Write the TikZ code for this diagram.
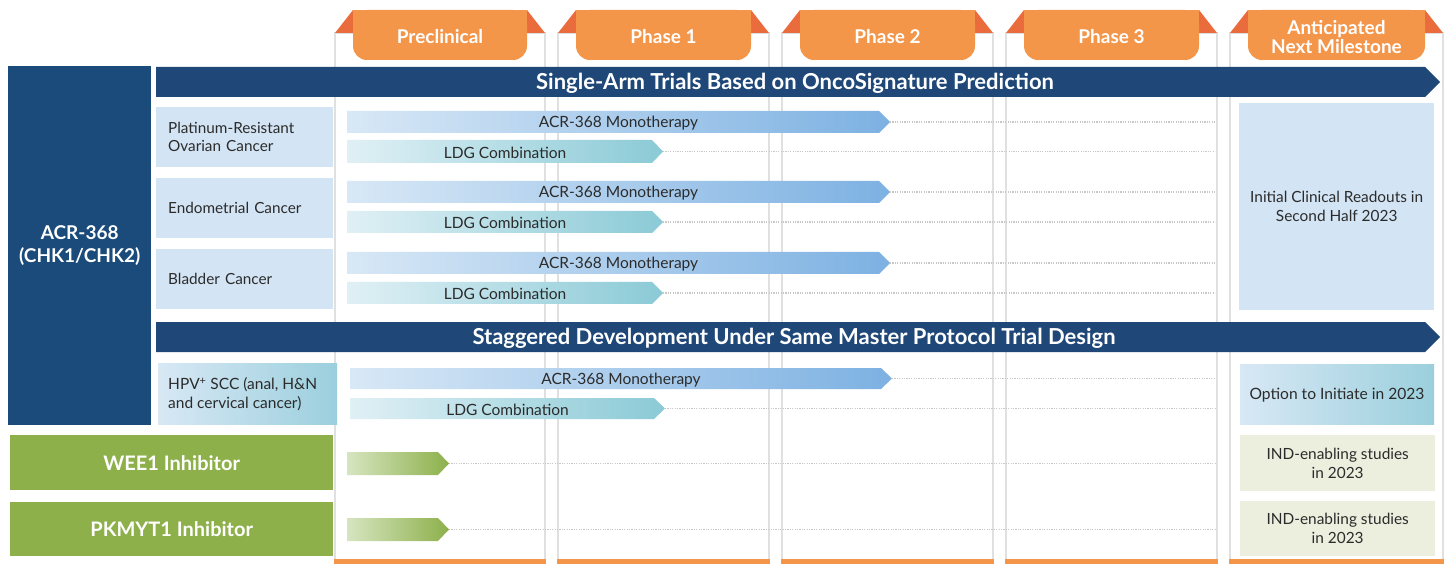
\documentclass[tikz,border=0pt]{standalone}
\usepackage{fontspec}
\setmainfont{Lato}
\usetikzlibrary{calc}
\definecolor{navy}{HTML}{1F4878}
\definecolor{acrblue}{HTML}{1B4B7A}
\definecolor{tabor}{HTML}{F4964A}
\definecolor{tabred}{HTML}{EA6B3C}
\definecolor{indblue}{HTML}{D3E4F4}
\definecolor{grn}{HTML}{8DB04B}
\definecolor{grnlt}{HTML}{D6E5C0}
\definecolor{milegrn}{HTML}{ECEFDE}
\definecolor{monoL}{HTML}{D8E8F6}
\definecolor{monoR}{HTML}{7DB1E2}
\definecolor{ldgL}{HTML}{E0F0F5}
\definecolor{ldgR}{HTML}{8ACAD6}
\definecolor{hpvL}{HTML}{D8E8F5}
\definecolor{hpvR}{HTML}{9BCFDD}
\definecolor{txt}{HTML}{2B2B2B}
\definecolor{colgray}{HTML}{E0E0E0}
\definecolor{dotgray}{HTML}{C8C8C8}
\tikzset{
  tabtext/.style={text=white,font=\bfseries\fontsize{19}{20}\selectfont,align=center,inner sep=0pt},
  bannertext/.style={text=white,font=\bfseries\fontsize{22}{24}\selectfont,inner sep=0pt},
  bartext/.style={text=txt,font=\fontsize{15.5}{17}\selectfont,inner sep=0pt},
  indbox/.style={fill=indblue,anchor=north west,inner ysep=0pt,inner xsep=12pt,text width=153pt,minimum height=60pt,align=left,text=txt,font=\fontsize{15.3}{18}\selectfont},
  greenbox/.style={fill=grn,anchor=north west,inner sep=0pt,minimum width=323pt,text=white,font=\bfseries\fontsize{20}{22}\selectfont},
  milebox/.style={anchor=north west,inner sep=0pt,minimum width=195pt,align=center,text=txt,font=\fontsize{15.4}{19}\selectfont},
  dotline/.style={draw=dotgray,line width=1.2pt,dash pattern=on 1.2pt off 1.2pt},
}
\newcommand{\phasecol}[4]{%
  \fill[white,draw=colgray,line width=2.8pt] (#1,33) rectangle (#2,561);
  \fill[tabor] (#1-1,559) rectangle (#2+1,564);
  \fill[tabred] (#1,33) -- (#1+18,10) -- (#1+18,33) -- cycle;
  \fill[tabred] (#2,33) -- (#2-18,10) -- (#2-18,33) -- cycle;
  \fill[tabor,rounded corners=14pt] (#1+18,10) rectangle (#2-18,60);
  \fill[tabor] (#1+18,10) rectangle (#2-18,30);
  \node[tabtext] (#3) at ({(#1+#2)/2},37) {#4};
}
\newcommand{\pbar}[8]{%
  \shade[left color=#6,right color=#7] (#2,#4) -- (#3-11,#4) -- (#3,{(#4+#5)/2}) -- (#3-11,#5) -- (#2,#5) -- cycle;
  \coordinate (#1tip) at (#3,{(#4+#5)/2});
  \coordinate (#1end) at (1215,{(#4+#5)/2});
  \node[bartext] (#1) at ({(#2+#3)/2},{(#4+#5)/2+1.3}) {#8};
  \draw[dotline] (#1tip) -- (#1end);
}
\begin{document}
\begin{tikzpicture}[x=1pt,y=-1pt]
\useasboundingbox (0,0) rectangle (1452,564);
\fill[white] (0,0) rectangle (1452,564);
% phase columns
\phasecol{335}{545}{pre}{Preclinical}
\phasecol{558}{769}{ph1}{Phase 1}
\phasecol{782}{993}{ph2}{Phase 2}
\phasecol{1006}{1217}{ph3}{Phase 3}
\phasecol{1230}{1443}{mile}{Anticipated\\[-1pt]Next Milestone}
% left program box
\node[fill=acrblue,anchor=north west,inner sep=0pt,minimum width=143pt,minimum height=359pt,
  text=white,align=center,font=\bfseries\fontsize{19}{23}\selectfont] (acr) at (8,66) {ACR-368\\(CHK1/CHK2)};
% banners
\fill[navy] (156,67) -- (1425,67) -- (1440,82) -- (1425,97) -- (156,97) -- cycle;
\node[bannertext] (ban1) at (795,83.5) {Single-Arm Trials Based on OncoSignature Prediction};
\fill[navy] (156,322) -- (1425,322) -- (1440,337) -- (1425,352) -- (156,352) -- cycle;
\node[bannertext] (ban2) at (794,338.5) {Staggered Development Under Same Master Protocol Trial Design};
% indications
\node[indbox] (plat) at (156,107) {Platinum-Resistant\\Ovarian Cancer};
\node[indbox] (endo) at (156,178) {Endometrial Cancer};
\node[indbox] (blad) at (156,249) {Bladder Cancer};
\shade[left color=hpvL,right color=hpvR] (158,363) rectangle (337,424);
\node[anchor=west,inner sep=0pt,align=left,text=txt,font=\fontsize{15.5}{18.5}\selectfont] (hpv) at (168,394) {HPV\textsuperscript{+} SCC (anal, H\&N\\and cervical cancer)};
% green programs
\node[greenbox,minimum height=55pt] (wee) at (10,435) {WEE1 Inhibitor};
\node[greenbox,minimum height=54pt] (pkm) at (10,502) {PKMYT1 Inhibitor};
% bars
\pbar{m1}{347}{890}{111}{133}{monoL}{monoR}{ACR-368 Monotherapy}
\pbar{l1}{347}{663}{140}{163}{ldgL}{ldgR}{LDG Combination}
\pbar{m2}{347}{890}{181}{203}{monoL}{monoR}{ACR-368 Monotherapy}
\pbar{l2}{347}{663}{211}{233}{ldgL}{ldgR}{LDG Combination}
\pbar{m3}{347}{890}{252}{274}{monoL}{monoR}{ACR-368 Monotherapy}
\pbar{l3}{347}{663}{282}{304}{ldgL}{ldgR}{LDG Combination}
\pbar{m4}{350}{892}{368}{389}{monoL}{monoR}{ACR-368 Monotherapy}
\pbar{l4}{350}{665}{398}{419}{ldgL}{ldgR}{LDG Combination}
\pbar{g1}{347}{449}{452}{475}{grnlt}{grn}{}
\pbar{g2}{347}{449}{518}{541}{grnlt}{grn}{}
% milestones
\node[milebox,fill=indblue,minimum height=207pt] (ms1) at (1239,103) {Initial Clinical Readouts in\\Second Half 2023};
\shade[left color=hpvL,right color=hpvR] (1240,364) rectangle (1434,424);
\node[text=txt,inner sep=0pt,font=\fontsize{15.6}{17}\selectfont] (ms2) at (1337,395) {Option to Initiate in 2023};
\node[milebox,fill=milegrn,minimum height=56pt] (ms3) at (1240,435) {IND-enabling studies\\in 2023};
\node[milebox,fill=milegrn,minimum height=55pt] (ms4) at (1240,501) {IND-enabling studies\\in 2023};
\end{tikzpicture}
\end{document}
